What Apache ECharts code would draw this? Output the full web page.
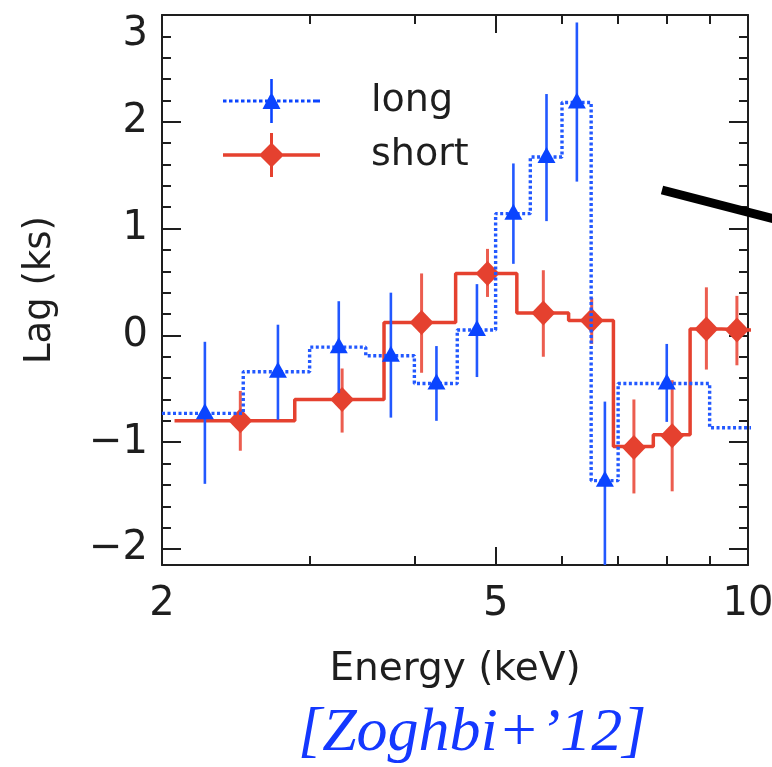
<!DOCTYPE html>
<html>
<head>
<meta charset="utf-8">
<script src="https://cdn.jsdelivr.net/npm/echarts@6/dist/echarts.min.js"></script>
<style>
  html, body { margin: 0; padding: 0; background: #ffffff; }
  #chart { width: 772px; height: 767px; }
</style>
</head>
<body>
<div id="chart"></div>
<script>
// Binned lag spectra: energy bin edges (keV) and the lag level (ks) in each bin
const longEdges   = [2.0, 2.5, 3.0, 3.5, 4.0, 4.5, 5.0, 5.5, 6.0, 6.5, 7.0, 9.0, 11.0];
const longLevels  = [-0.73, -0.34, -0.11, -0.19, -0.45, 0.05, 1.14, 1.67, 2.18, -1.36, -0.45, -0.865];
const shortEdges  = [2.07, 2.88, 3.68, 4.48, 5.30, 6.11, 6.91, 7.71, 8.53, 9.30, 10.13];
const shortLevels = [-0.80, -0.60, 0.12, 0.58, 0.21, 0.14, -1.04, -0.93, 0.06, 0.05];

// Lag measurements with their error bars (low / high ends, ks)
const longEnergy  = [2.25, 2.75, 3.25, 3.75, 4.25, 4.75, 5.25, 5.75, 6.25, 6.75, 8.0];
const longLag     = [-0.73, -0.34, -0.11, -0.19, -0.45, 0.05, 1.14, 1.67, 2.18, -1.36, -0.45];
const longLow     = [-1.39, -0.79, -0.54, -0.77, -0.80, -0.39, 0.67, 1.07, 1.44, -2.20, -0.81];
const longHigh    = [-0.06, 0.10, 0.32, 0.40, -0.10, 0.48, 1.61, 2.26, 2.93, -0.62, -0.08];

const shortEnergy = [2.48, 3.28, 4.08, 4.89, 5.70, 6.51, 7.31, 8.12, 8.92, 9.70];
const shortLag    = [-0.80, -0.60, 0.12, 0.58, 0.21, 0.14, -1.05, -0.94, 0.06, 0.05];
const shortLow    = [-1.08, -0.91, -0.35, 0.36, -0.20, -0.08, -1.48, -1.46, -0.32, -0.28];
const shortHigh   = [-0.52, -0.31, 0.58, 0.81, 0.61, 0.35, -0.60, -0.42, 0.45, 0.37];

// Axis ticks
const xMajorTicks = [2, 5, 10];
const xMinorTicks = [3, 4, 6, 7, 8, 9];
const yMajorTicks = [-2, -1, 0, 1, 2, 3];
const yMinorTicks = [-1.8, -1.6, -1.4, -1.2, -0.8, -0.6, -0.4, -0.2, 0.2, 0.4, 0.6, 0.8,
                     1.2, 1.4, 1.6, 1.8, 2.2, 2.4, 2.6, 2.8];
const xRange = [2, 10];
const yRange = [-2.15, 3];

const BLUE = '#0a44ff';
const BLUE_LINE = '#2258ff';
const RED = '#e5412f';
const RED_BAR = '#ec5d4f';
const FONT = 'DejaVu Sans';
const INK = '#1e1e1e';

// the energy axis is logarithmic: positions are log10(E)
const lg = Math.log10;

function stepData(edges, levels) {
  const pts = levels.map((v, i) => [lg(edges[i]), v]);
  pts.push([lg(edges[levels.length]), levels[levels.length - 1]]);
  return pts;
}
function errData(energy, low, high) {
  return energy.map((e, i) => [lg(e), low[i], high[i]]);
}
function pointData(energy, lag) {
  return energy.map((e, i) => [lg(e), lag[i]]);
}
function errorBarRenderer(color, width) {
  return function (params, api) {
    const p1 = api.coord([api.value(0), api.value(1)]);
    const p2 = api.coord([api.value(0), api.value(2)]);
    return {
      type: 'line',
      shape: { x1: p1[0], y1: p1[1], x2: p2[0], y2: p2[1] },
      style: { stroke: color, lineWidth: width }
    };
  };
}

// legend glyphs: line sample with a marker and an error bar
function rect(x, y, w, h) { return 'M' + x + ' ' + y + 'h' + w + 'v' + h + 'h' + (-w) + 'Z'; }
let longIcon = '';
for (let x = 0; x < 93; x += 6) longIcon += rect(x, 20.5, 3.5, 3);
longIcon += rect(93.5, 20.5, 3.5, 3);
longIcon += rect(47.2, 0, 2.6, 44);
longIcon += 'M39.5 30L48.5 13L57.5 30Z';
let shortIcon = rect(0, 20.3, 97, 3.4) + rect(47, 0, 3, 44) + 'M36 22L48.5 9.5L61 22L48.5 34.5Z';

const grid = { left: 162, right: 24, top: 15, bottom: 202, outerBoundsMode: 'none', containLabel: false };

function xAxisDef(position, ticks, len, showLine, showLabels) {
  return {
    type: 'value', position: position,
    min: lg(xRange[0]), max: lg(xRange[1]),
    axisLine: { show: showLine, onZero: false, lineStyle: { color: INK, width: 2 } },
    axisTick: { show: true, inside: true, length: len, customValues: ticks.map(lg),
                lineStyle: { color: INK, width: 2 } },
    axisLabel: showLabels ? {
      show: true, customValues: ticks.map(lg), margin: 20,
      fontFamily: FONT, fontSize: 40, color: INK,
      formatter: v => String(Math.round(Math.pow(10, v)))
    } : { show: false },
    splitLine: { show: false }, minorTick: { show: false }
  };
}
function yAxisDef(position, ticks, len, showLine, showLabels) {
  return {
    type: 'value', position: position,
    min: yRange[0], max: yRange[1],
    axisLine: { show: showLine, onZero: false, lineStyle: { color: INK, width: 2 } },
    axisTick: { show: true, inside: true, length: len, customValues: ticks,
                lineStyle: { color: INK, width: 2 } },
    axisLabel: showLabels ? {
      show: true, customValues: ticks, margin: 14,
      fontFamily: FONT, fontSize: 40, color: INK,
      verticalAlignMaxLabel: 'top',
      formatter: v => (v < 0 ? '\u2212' + Math.abs(v) : String(v))
    } : { show: false },
    splitLine: { show: false }, minorTick: { show: false }
  };
}

const xAxes = [
  xAxisDef('bottom', xMajorTicks, 18, true, true),
  xAxisDef('bottom', xMinorTicks, 9, false, false),
  xAxisDef('top', xMajorTicks, 18, true, false),
  xAxisDef('top', xMinorTicks, 9, false, false)
];
Object.assign(xAxes[0], {
  name: 'Energy (keV)', nameLocation: 'middle', nameGap: 85,
  nameTextStyle: { fontFamily: FONT, fontSize: 39, color: INK }
});
const yAxes = [
  yAxisDef('left', yMajorTicks, 19, true, true),
  yAxisDef('left', yMinorTicks, 9, false, false),
  yAxisDef('right', yMajorTicks, 19, true, false),
  yAxisDef('right', yMinorTicks, 9, false, false)
];
Object.assign(yAxes[0], {
  name: 'Lag (ks)', nameLocation: 'middle', nameGap: 103,
  nameTextStyle: { fontFamily: FONT, fontSize: 37, color: INK }
});

const chart = echarts.init(document.getElementById('chart'), null, { renderer: 'canvas' });
chart.setOption({
  animation: false,
  backgroundColor: '#ffffff',
  grid: grid,
  xAxis: xAxes,
  yAxis: yAxes,
  legend: {
    left: 218, top: 74, orient: 'vertical',
    itemWidth: 97, itemHeight: 44, itemGap: 10,
    selectedMode: false,
    textStyle: { fontFamily: FONT, fontSize: 38, color: INK, padding: [0, 0, 0, 46] },
    data: [
      { name: 'long', icon: 'path://' + longIcon, itemStyle: { color: BLUE, borderWidth: 0 } },
      { name: 'short', icon: 'path://' + shortIcon, itemStyle: { color: RED, borderWidth: 0 } }
    ]
  },
  series: [
    {
      name: 'short', type: 'line', step: 'end', showSymbol: false, symbol: 'none',
      data: stepData(shortEdges, shortLevels),
      lineStyle: { color: RED, width: 3.5 }, itemStyle: { color: RED }, z: 2
    },
    {
      name: 'short', type: 'custom', renderItem: errorBarRenderer(RED_BAR, 3),
      data: errData(shortEnergy, shortLow, shortHigh),
      encode: { x: 0, y: [1, 2] }, clip: true, itemStyle: { color: RED }, z: 3
    },
    {
      name: 'short', type: 'scatter', symbol: 'diamond', symbolSize: [24, 25],
      data: pointData(shortEnergy, shortLag),
      itemStyle: { color: RED, opacity: 1 }, z: 4
    },
    {
      name: 'long', type: 'line', step: 'end', showSymbol: false, symbol: 'none',
      data: stepData(longEdges, longLevels),
      lineStyle: { color: BLUE_LINE, width: 3.4, type: [3, 2.5] }, itemStyle: { color: BLUE }, z: 5
    },
    {
      name: 'long', type: 'custom', renderItem: errorBarRenderer(BLUE_LINE, 2.6),
      data: errData(longEnergy, longLow, longHigh),
      encode: { x: 0, y: [1, 2] }, clip: true, itemStyle: { color: BLUE }, z: 6
    },
    {
      name: 'long', type: 'scatter', symbol: 'triangle', symbolSize: [18, 16], symbolOffset: [0, -2],
      data: pointData(longEnergy, longLag),
      itemStyle: { color: BLUE, opacity: 1 }, z: 7
    }
  ],
  graphic: [
    {
      type: 'line', z: 100,
      shape: { x1: 662, y1: 190, x2: 790, y2: 223 },
      style: { stroke: '#000000', lineWidth: 9 }
    },
    {
      type: 'text', left: 298, top: 703, z: 100,
      style: {
        text: '[Zoghbi+\u201912]', fill: '#1438ff',
        font: 'italic 62px "Liberation Serif"'
      }
    }
  ]
});
</script>
</body>
</html>
